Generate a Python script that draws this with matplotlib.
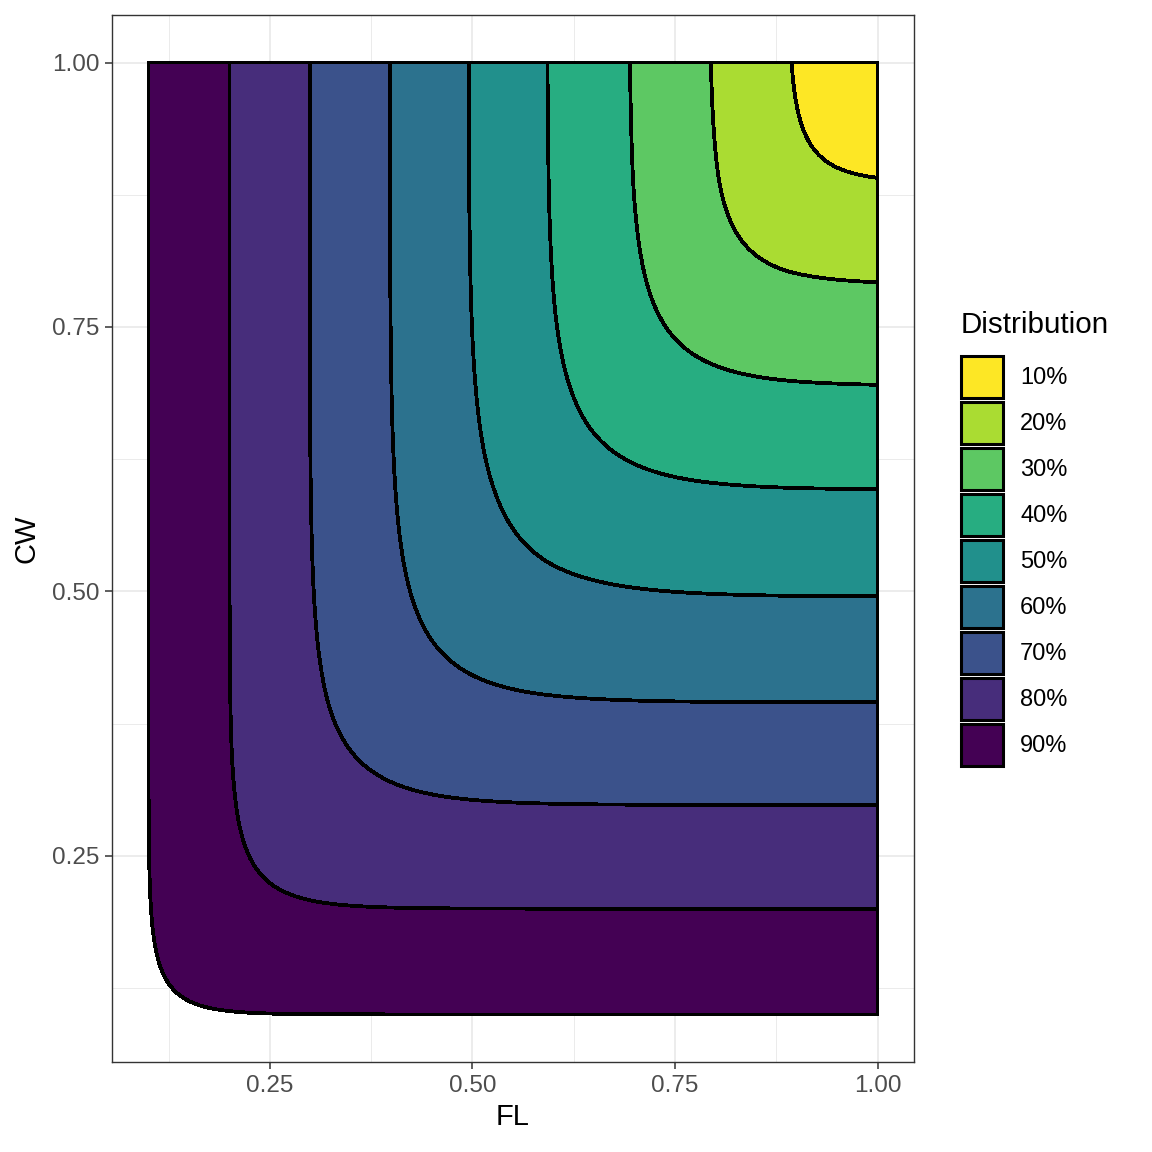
import numpy as np
import matplotlib.pyplot as plt
from matplotlib.patches import Patch

# band labels and viridis colours (10% = top-right band)
labels = ["10%", "20%", "30%", "40%", "50%", "60%", "70%", "80%", "90%"]
colors = ["#FDE725", "#AADC32", "#5DC863", "#27AD81", "#21908C",
          "#2C728E", "#3B528B", "#472D7B", "#440154"]
levels = [0.0, 0.1, 0.2, 0.3, 0.4, 0.5, 0.6, 0.7, 0.8, 0.9]

# where each band boundary meets the top (FL) and right (CW) edges,
# and how far each corner bulges out along the diagonal
bound_lvl = [0.0, 0.1, 0.2, 0.3, 0.4, 0.5, 0.6, 0.7, 0.8, 0.9, 1.0]
fl_cross = [0.0, 0.100, 0.200, 0.299, 0.398, 0.495, 0.592, 0.693, 0.792, 0.890, 1.0]
cw_cross = [0.0, 0.100, 0.200, 0.298, 0.395, 0.495, 0.596, 0.694, 0.790, 0.887, 1.0]
corner_bulge = [0.020, 0.027, 0.036, 0.052, 0.056, 0.060, 0.056, 0.052, 0.042, 0.028, 0.020]

fl = np.linspace(0.08, 1.0, 600)
cw = np.linspace(0.08, 1.0, 600)
FL, CW = np.meshgrid(fl, cw)
U = np.interp(FL, fl_cross, bound_lvl)
V = np.interp(CW, cw_cross, bound_lvl)


def softmin(u, v, tau):
    return np.minimum(u, v) - tau * np.log1p(np.exp(-np.abs(u - v) / tau))


m = softmin(U, V, 0.07)
for _ in range(3):
    tau = np.interp(m, bound_lvl, corner_bulge) / np.log(2)
    m = softmin(U, V, tau)
Z = 1 - m

plt.rcParams['font.family'] = ['Liberation Sans', 'DejaVu Sans']
fig = plt.figure(figsize=(11.52, 11.52), dpi=100)
ax = fig.add_axes([112/1152, 1 - 1062/1152, 802/1152, 1047/1152])

ax.set_xlim(0.055, 1.045)
ax.set_ylim(0.055, 1.045)
ax.set_xticks([0.25, 0.50, 0.75, 1.00])
ax.set_yticks([0.25, 0.50, 0.75, 1.00])
ax.set_xticklabels(["0.25", "0.50", "0.75", "1.00"])
ax.set_yticklabels(["0.25", "0.50", "0.75", "1.00"])
ax.set_xticks([0.125, 0.375, 0.625, 0.875], minor=True)
ax.set_yticks([0.125, 0.375, 0.625, 0.875], minor=True)
ax.grid(which='major', color='#EBEBEB', linewidth=1.3)
ax.grid(which='minor', color='#EBEBEB', linewidth=0.7)
ax.set_axisbelow(True)
ax.tick_params(which='major', length=5, width=1.1, color='#333333',
               labelsize=17.5, labelcolor='#4D4D4D', pad=4)
ax.tick_params(which='minor', length=0)
for s in ax.spines.values():
    s.set_color('#333333')
    s.set_linewidth(1.0)

cs = ax.contourf(FL, CW, Z, levels=levels, colors=colors, zorder=2)
cs.set_edgecolor('black')
cs.set_linewidth(2.0)

ax.set_xlabel("FL", fontsize=21, labelpad=5)
ax.set_ylabel("CW", fontsize=21, labelpad=8)

handles = [Patch(facecolor=c, edgecolor='black', linewidth=2.2) for c in colors]
leg = fig.legend(handles, labels, title="Distribution", loc='upper left',
                 bbox_to_anchor=(961/1152, 1 - 311/1152), frameon=False,
                 fontsize=17, title_fontsize=21.3, handlelength=1.78,
                 handleheight=2.36, labelspacing=0.17, handletextpad=0.72,
                 borderpad=0, borderaxespad=0)
leg._legend_box.align = "left"
leg._legend_box.sep = 12

plt.savefig("out.png", dpi=100)
